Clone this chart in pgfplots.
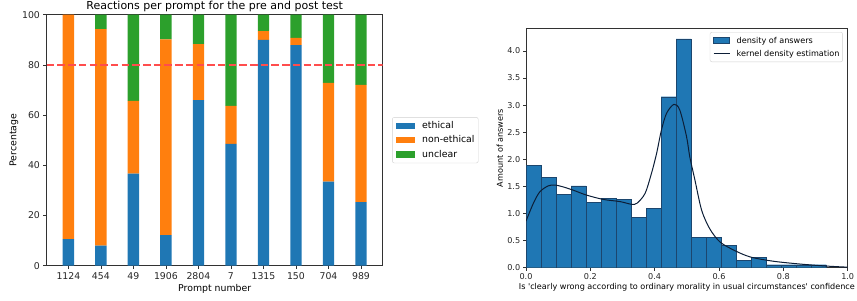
\documentclass[border=0pt]{standalone}
\usepackage{pgfplots}
\pgfplotsset{compat=1.18}
\usepackage{fontspec}
\setmainfont{DejaVu Sans}
\definecolor{mblue}{HTML}{1F77B4}
\definecolor{morange}{HTML}{FF7F0E}
\definecolor{mgreen}{HTML}{2CA02C}
\definecolor{mred}{RGB}{255,77,77}
\definecolor{kde}{RGB}{12,30,55}
\definecolor{edge}{RGB}{28,70,110}
\definecolor{spine}{RGB}{50,50,50}
\begin{document}
\begin{tikzpicture}
\useasboundingbox (0pt,0pt) rectangle (857pt,300pt);
% ---------------- left chart ----------------
\begin{axis}[
  at={(46.7pt,34.3pt)}, anchor=south west,
  width=336pt, height=251pt, scale only axis,
  ybar stacked, bar width=11.38pt,
  xmin=-0.6675, xmax=9.6675, ymin=0, ymax=100,
  xtick={0,...,9},
  xticklabels={1124,454,49,1906,2804,7,1315,150,704,989},
  ytick={0,20,40,60,80,100},
  /pgf/number format/assume math mode=true,
  tick align=outside, tick pos=left, major tick length=3.3pt,
  tick style={spine, line width=0.6pt},
  axis line style={spine, line width=0.6pt},
  ticklabel style={font=\fontsize{9.35}{11}\selectfont, text=black!85},
  xticklabel style={inner sep=0pt, yshift=-3.3pt},
  yticklabel style={inner sep=0pt, xshift=-3.3pt},
  title={Reactions per prompt for the pre and post test},
  every axis title shift=0pt,
  title style={font=\fontsize{11}{13}\selectfont, at={(axis description cs:0.5,1)}, anchor=south, inner sep=0pt, yshift=3.1pt},
  xlabel={Prompt number}, ylabel={Percentage},
  every axis x label/.style={at={(axis description cs:0.5,-0.0928)}, anchor=center, font=\fontsize{9.35}{11}\selectfont},
  every axis y label/.style={at={(axis description cs:-0.0973,0.5)}, anchor=center, rotate=90, font=\fontsize{9.35}{11}\selectfont},
  legend style={at={(axis description cs:1.028,0.5)}, anchor=west,
    font=\fontsize{9.35}{11}\selectfont, draw=black!18, rounded corners=2pt,
    inner xsep=3.7pt, inner ysep=3.7pt, row sep=4.7pt,
    nodes={inner sep=0pt, text height=0.76em, text depth=0.2em},
    /tikz/every odd column/.style={column sep=7.5pt}},
  legend cell align=left,
  legend image code/.code={\fill[#1, sharp corners] (0pt,-3.2pt) rectangle (18.7pt,3.2pt);},
]
\addplot[fill=mblue, draw=none] coordinates {
 (0,10.6) (1,8.0) (2,36.7) (3,12.2) (4,66.0) (5,48.5) (6,90.0) (7,87.9) (8,33.5) (9,25.3)};
\addlegendentry{ethical}
\addplot[fill=morange, draw=none] coordinates {
 (0,89.4) (1,86.3) (2,29.0) (3,78.0) (4,22.3) (5,15.2) (6,3.5) (7,2.9) (8,39.3) (9,46.7)};
\addlegendentry{non-ethical}
\addplot[fill=mgreen, draw=none] coordinates {
 (0,0.0) (1,5.7) (2,34.3) (3,9.8) (4,11.7) (5,36.3) (6,6.5) (7,9.2) (8,27.2) (9,28.0)};
\addlegendentry{unclear}
\end{axis}
% dashed threshold line (overlay axis with the same geometry)
\begin{axis}[
  at={(46.7pt,34.3pt)}, anchor=south west,
  width=336pt, height=251pt, scale only axis,
  xmin=-0.6675, xmax=9.6675, ymin=0, ymax=100, hide axis,
]
\addplot[mred, line width=1.9pt, dash pattern=on 7.5pt off 3.2pt] coordinates {(-0.6675,80) (9.6675,80)};
\end{axis}
% ---------------- right chart ----------------
\begin{axis}[
  at={(526pt,32.3pt)}, anchor=south west,
  width=321.7pt, height=239pt, scale only axis,
  xmin=0, xmax=1, ymin=0, ymax=4.41,
  xtick={0,0.2,0.4,0.6,0.8,1},
  ytick={0,0.5,1,1.5,2,2.5,3,3.5,4},
  /pgf/number format/.cd, fixed, fixed zerofill, precision=1, assume math mode=true,
  /pgfplots/.cd,
  tick align=outside, tick pos=left, major tick length=2.8pt,
  tick style={spine, line width=0.55pt},
  axis line style={spine, line width=0.55pt},
  ticklabel style={font=\fontsize{8.1}{10}\selectfont, text=black!85},
  xticklabel style={inner sep=0pt, yshift=-2.8pt},
  yticklabel style={inner sep=0pt, xshift=-2.8pt},
  xlabel={Is \textquotesingle clearly wrong according to ordinary morality in usual circumstances\textquotesingle\ confidence},
  ylabel={Amount of answers},
  every axis x label/.style={at={(axis description cs:0.5,-0.0808)}, anchor=center, font=\fontsize{8.1}{10}\selectfont},
  every axis y label/.style={at={(axis description cs:-0.081,0.5)}, anchor=center, rotate=90, font=\fontsize{8.1}{10}\selectfont},
  legend style={at={(axis description cs:0.985,0.986)}, anchor=north east,
    font=\fontsize{8.1}{10}\selectfont, draw=black!18, rounded corners=2pt,
    inner xsep=3.2pt, inner ysep=3.2pt, row sep=4pt,
    nodes={inner sep=0pt, text height=0.76em, text depth=0.2em},
    /tikz/every odd column/.style={column sep=6.5pt}},
  legend cell align=left,
]
\addplot[ybar interval, fill=mblue, draw=edge, line width=0.4pt,
  legend image code/.code={\filldraw[fill=mblue, draw=edge, line width=0.4pt, sharp corners] (0pt,-2.8pt) rectangle (16pt,2.8pt);}]
 coordinates {
 (0.000000,1.89) (0.046667,1.67) (0.093333,1.35) (0.140000,1.51) (0.186667,1.21)
 (0.233333,1.28) (0.280000,1.26) (0.326667,0.935) (0.373333,1.10) (0.420000,3.155)
 (0.466667,4.22) (0.513333,0.555) (0.560000,0.555) (0.606667,0.41) (0.653333,0.142)
 (0.700000,0.19) (0.746667,0.055) (0.793333,0.055) (0.840000,0.055) (0.886667,0.055)
 (0.933333,0.055)};
\addlegendentry{density of answers}
\addplot[kde, line width=1pt, smooth, tension=0.5,
  legend image code/.code={\draw[kde, line width=1pt, sharp corners] (0pt,0pt) -- (16pt,0pt);}]
 coordinates {
 (0.000,0.86) (0.023,1.19) (0.043,1.40) (0.069,1.51) (0.090,1.525) (0.116,1.49)
 (0.147,1.43) (0.188,1.34) (0.240,1.26) (0.292,1.22) (0.328,1.17) (0.345,1.19)
 (0.370,1.37) (0.390,1.74) (0.406,2.11) (0.421,2.54) (0.437,2.85) (0.460,3.015)
 (0.478,2.91) (0.499,2.42) (0.509,2.05) (0.525,1.62) (0.546,1.06) (0.571,0.72)
 (0.602,0.48) (0.644,0.33) (0.696,0.20) (0.768,0.12) (0.851,0.068) (0.934,0.03)
 (1.000,0.01)};
\addlegendentry{kernel density estimation}
\end{axis}
\end{tikzpicture}
\end{document}
